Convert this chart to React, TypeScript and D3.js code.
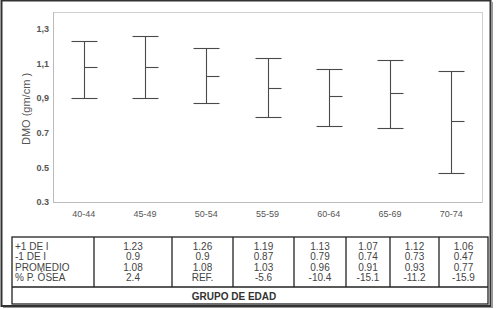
import React from "react";
import * as d3 from "d3";

const categories = ["40-44", "45-49", "50-54", "55-59", "60-64", "65-69", "70-74"];
const plusSD = [1.23, 1.26, 1.19, 1.13, 1.07, 1.12, 1.06];
const minusSD = [0.9, 0.9, 0.87, 0.79, 0.74, 0.73, 0.47];
const meanVals = [1.08, 1.08, 1.03, 0.96, 0.91, 0.93, 0.77];
const pctBone = ["2.4", "REF.", "-5.6", "-10.4", "-15.1", "-11.2", "-15.9"];
const yTickValues = [0.3, 0.5, 0.7, 0.9, 1.1, 1.3];
const yTickLabels = ["0.3", "0.5", "0.7", "0,9", "1,1", "1,3"];
const rowLabels = ["+1 DE I", "-1 DE I", "PROMEDIO", "% P. ÓSEA"];
const yTitle = "DMO (gm/cm  )";
const xTitle = "GRUPO DE EDAD";

export default function App() {
  const W = 497, H = 309;
  const plotL = 53, plotR = 482, plotT = 12, plotB = 202;
  const x = d3.scaleBand<string>().domain(categories).range([plotL, plotR]);
  const y = d3.scaleLinear().domain([0.3, 1.3]).range([202, 29]);
  const font = "Arial, 'Liberation Sans', sans-serif";
  const barColor = "#4a4a4a";
  const capHalf = 13;

  const colEdges = [12, 94, 172, 233, 294, 346, 390, 439, 488];
  const tTop = 237, tMid = 287, tBot = 304;
  const rowY = [246, 256.5, 267, 277.5];
  const rowsData = [
    plusSD.map((v) => String(v)),
    minusSD.map((v) => String(v)),
    meanVals.map((v) => String(v)),
    pctBone,
  ];

  return (
    <svg width={W} height={H} style={{ position: "absolute", left: 0, top: 0, background: "#fff" }} fontFamily={font}>
      <rect x={0} y={0} width={W} height={H} fill="#fff" />
      {/* outer frame */}
      <rect x={1.5} y={0.5} width={489} height={305.5} fill="none" stroke="#333" strokeWidth={2} />
      <line x1={3} y1={307.5} x2={492} y2={307.5} stroke="#999" strokeWidth={1} />
      <line x1={492.5} y1={2} x2={492.5} y2={308} stroke="#999" strokeWidth={1} />

      {/* plot frame */}
      <rect x={plotL + 0.5} y={plotT + 0.5} width={plotR - plotL} height={plotB - plotT} fill="none" stroke="#cfcfcf" strokeWidth={1} />
      <line x1={plotL + 0.5} y1={plotT} x2={plotL + 0.5} y2={plotB + 0.5} stroke="#bbb" />
      <line x1={plotL} y1={plotB + 0.5} x2={plotR} y2={plotB + 0.5} stroke="#bbb" />

      {/* y ticks */}
      {yTickValues.map((v, i) => (
        <text key={v} x={49} y={y(v)} dy="0.35em" textAnchor="end" fontSize={9} fontWeight="bold" fill="#555">
          {yTickLabels[i]}
        </text>
      ))}
      <text transform={`translate(26,109) rotate(-90)`} textAnchor="middle" fontSize={11} fill="#555" dy="0.35em">
        {yTitle}
      </text>

      {/* x labels */}
      {categories.map((c) => (
        <text key={c} x={x(c)! + x.bandwidth() / 2} y={214} dy="0.35em" textAnchor="middle" fontSize={9} fill="#555">
          {c}
        </text>
      ))}

      {/* error bars */}
      {categories.map((c, i) => {
        const cx = Math.round(x(c)! + x.bandwidth() / 2) + 0.5;
        const yTop = Math.round(y(plusSD[i])) + 0.5;
        const yBot = Math.round(y(minusSD[i])) + 0.5;
        const yMean = Math.round(y(meanVals[i])) + 0.5;
        return (
          <g key={c} stroke={barColor} strokeWidth={1.1} fill="none">
            <line x1={cx} y1={yTop} x2={cx} y2={yBot} />
            <line x1={cx - capHalf} y1={yTop} x2={cx + capHalf} y2={yTop} />
            <line x1={cx - capHalf} y1={yBot} x2={cx + capHalf} y2={yBot} />
            <line x1={cx} y1={yMean} x2={cx + capHalf} y2={yMean} />
          </g>
        );
      })}

      {/* table */}
      <g stroke="#222" strokeWidth={1.3} fill="none">
        <rect x={colEdges[0]} y={tTop} width={colEdges[colEdges.length - 1] - colEdges[0]} height={tBot - tTop} />
        <line x1={colEdges[0]} y1={tMid} x2={colEdges[colEdges.length - 1]} y2={tMid} />
        {colEdges.slice(1, -1).map((cx) => (
          <line key={cx} x1={cx} y1={tTop} x2={cx} y2={tMid} />
        ))}
      </g>
      {rowLabels.map((lab, r) => (
        <text key={lab} x={15} y={rowY[r]} dy="0.35em" fontSize={10} fill="#444">
          {lab}
        </text>
      ))}
      {rowsData.map((row, r) =>
        row.map((val, i) => (
          <text
            key={`${r}-${i}`}
            x={(colEdges[i + 1] + colEdges[i + 2]) / 2}
            y={rowY[r]}
            dy="0.35em"
            textAnchor="middle"
            fontSize={10}
            fill="#444"
          >
            {val}
          </text>
        ))
      )}
      <text x={234} y={296} dy="0.35em" textAnchor="middle" fontSize={10} fontWeight="bold" fill="#333">
        {xTitle}
      </text>
    </svg>
  );
}
